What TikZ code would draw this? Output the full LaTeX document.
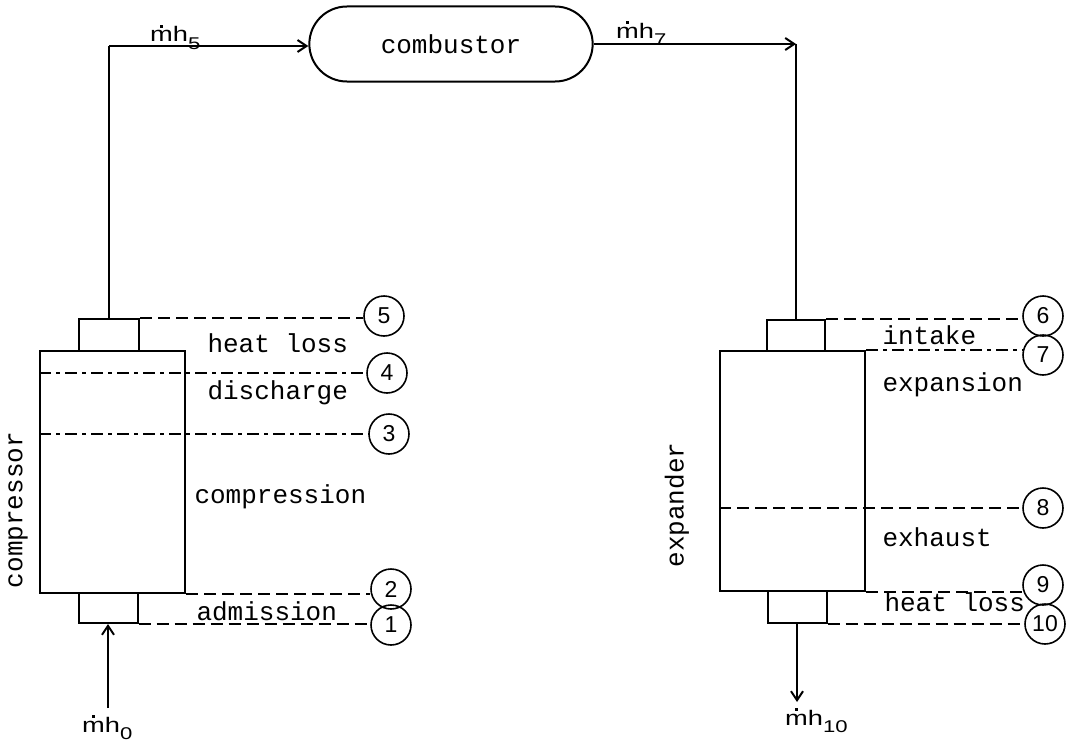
\documentclass[tikz,border=0pt]{standalone}
\usepackage{fontspec}
\setmainfont{Liberation Mono}
\newfontfamily\lblfont{Liberation Sans}
\usetikzlibrary{positioning}
\usetikzlibrary{arrows.meta}
\usetikzlibrary{shapes}

% mass flow label: m-dot h with dropped subscript
\newcommand{\mflow}[1]{\scalebox{1.3}[1]{\lblfont\fontsize{21}{21}\selectfont
  \makebox[0pt][l]{\hspace{0.36em}\raisebox{0.68em}{\rule{0.11em}{0.11em}}}mh\raisebox{-0.38em}{\fontsize{17}{17}\selectfont #1}}}

\begin{document}
\begin{tikzpicture}[x=1pt, y=-1pt,
    box/.style={draw, line width=2pt, inner sep=0pt},
    state/.style={draw, circle, line width=1.6pt, minimum size=40pt, inner sep=0pt,
      font=\lblfont\fontsize{23}{23}\selectfont},
    stateline/.style={line width=1.5pt, dash pattern=on 12pt off 6pt},
    statelinedd/.style={line width=1.5pt, dash pattern=on 12pt off 5pt on 4pt off 5pt},
    flow/.style={line width=2pt},
    tip/.style={-{Straight Barb[length=9pt,width=12pt]}},
    phase/.style={anchor=west, font=\fontsize{26}{30}\selectfont},
    flowlbl/.style={anchor=base west, inner sep=0pt}]
    \useasboundingbox (0,0) rectangle (1081,752);

    % Compressor
    \node[box, minimum width=145pt, minimum height=242pt] (comp) at (112.5,472) {};
    \node[box, minimum width=60pt, minimum height=32pt] (compTop) at (109,335) {};
    \node[box, minimum width=59pt, minimum height=30pt] (compBot) at (108,608) {};
    \node[rotate=90, font=\fontsize{26}{30}\selectfont] (compName) at (18,510) {compressor};

    % Expander
    \node[box, minimum width=145pt, minimum height=240pt] (exp) at (792.5,471) {};
    \node[box, minimum width=58pt, minimum height=31pt] (expTop) at (796,335.5) {};
    \node[box, minimum width=59pt, minimum height=32pt] (expBot) at (797,607) {};
    \node[rotate=90, font=\fontsize{26}{30}\selectfont] (expName) at (677,505) {expander};

    % Combustor
    \node[draw, rounded rectangle, line width=2pt, minimum width=290pt, minimum height=75pt,
      font=\fontsize{26}{30}\selectfont] (comb) at (451,44) {combustor\hspace{28pt}};

    % Flow path
    \coordinate (turn1) at (109,46);
    \coordinate (turn2) at (796,44);
    \coordinate (inlet) at (108,708);
    \coordinate (outlet) at (797,702);
    \draw[flow] (compTop.north) -- (turn1);
    \draw[flow, tip] (turn1) -- (turn1 -| comb.west);
    \draw[flow, tip] (comb.east) -- (turn2);
    \draw[flow] (turn2) -- (expTop.north);
    \draw[flow, tip] (inlet) -- (compBot.south);
    \draw[flow, tip] (expBot.south) -- (outlet);

    \node[flowlbl] (m5) at (150,42) {\mflow{5}};
    \node[flowlbl] (m7) at (616,38) {\mflow{7}};
    \node[flowlbl] (m0) at (82,732) {\mflow{0}};
    \node[flowlbl] (m10) at (785,725) {\mflow{10}};

    % State points, compressor side
    \node[state] (c5) at (384,316) {5};
    \node[state] (c4) at (387,373) {4};
    \node[state] (c3) at (389,434) {3};
    \node[state] (c2) at (391,589) {2};
    \node[state] (c1) at (391,625) {1};
    \draw[stateline] (compTop.north east) -- (compTop.north east -| c5.west);
    \draw[statelinedd] (c4 -| comp.west) -- (c4);
    \draw[statelinedd] (c3 -| comp.west) -- (c3);
    \draw[stateline] (comp.south east) -- (comp.south east -| c2.west);
    \draw[stateline] (compBot.south east) -- (compBot.south east -| c1.west);

    % State points, expander side
    \node[state] (c6) at (1043,316) {6};
    \node[state] (c7) at (1043,355) {7};
    \node[state] (c8) at (1043,508) {8};
    \node[state] (c9) at (1043,585) {9};
    \node[state] (c10) at (1045,624) {10};
    \draw[stateline] (expTop.north east) -- (expTop.north east -| c6.west);
    \draw[statelinedd] (exp.north east) -- (exp.north east -| c7.west);
    \draw[stateline] (c8 -| exp.west) -- (c8);
    \draw[stateline] (exp.south east) -- (exp.south east -| c9.west);
    \draw[stateline] (expBot.south east) -- (expBot.south east -| c10.west);

    % Phase labels
    \node[phase] (hl1) at (204,343) {heat loss};
    \node[phase] (dis) at (204,393) {discharge};
    \node[phase] (cps) at (191,497) {compression};
    \node[phase] (adm) at (193,611) {admission};
    \node[phase] (itk) at (879,335) {intake};
    \node[phase] (xpn) at (879,385) {expansion};
    \node[phase] (exh) at (879,537) {exhaust};
    \node[phase] (hl2) at (881,602) {heat loss};
\end{tikzpicture}
\end{document}
